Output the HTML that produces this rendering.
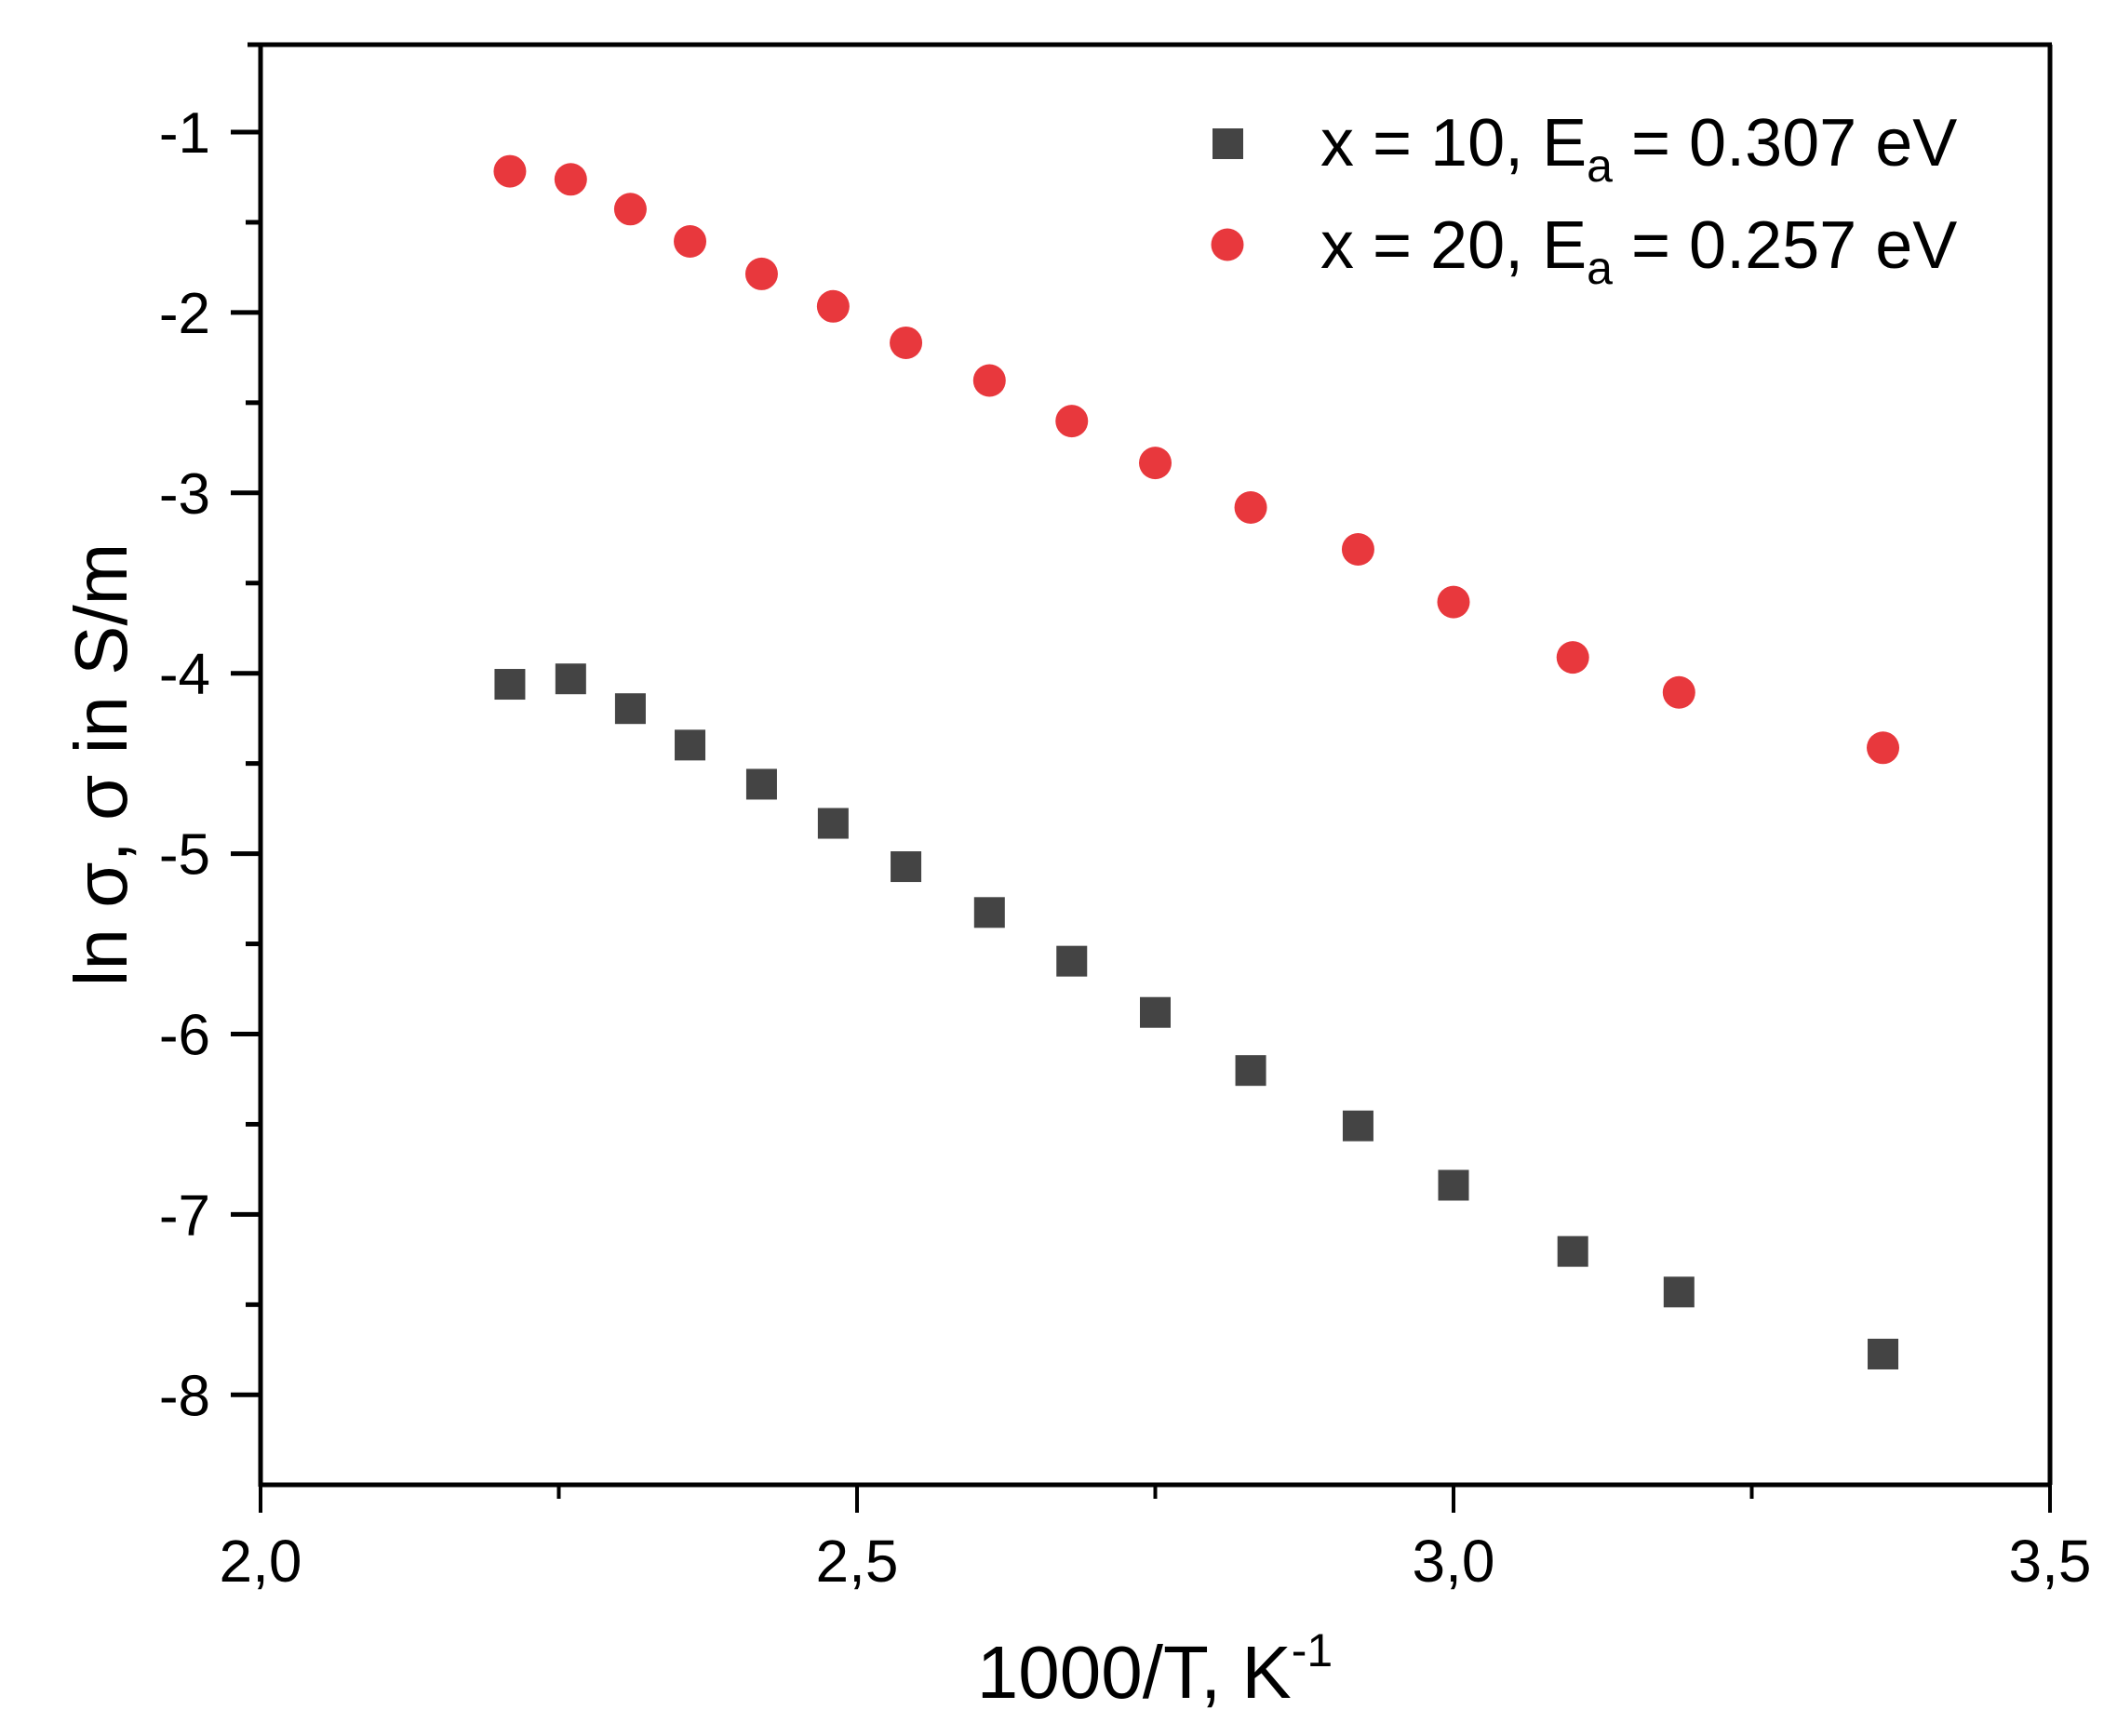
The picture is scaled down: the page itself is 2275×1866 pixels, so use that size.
<!DOCTYPE html>
<html><head><meta charset="utf-8"><style>
html,body{margin:0;padding:0;background:#fff;}
svg{display:block;font-family:"Liberation Sans",Arial,sans-serif;}
</style></head><body>
<svg id="chart" width="2275" height="1866" viewBox="0 0 2275 1866" xmlns="http://www.w3.org/2000/svg">
<g id="axes"></g>
<g id="marks"></g>
<g id="legend">
  <rect x="1303" y="138" width="33" height="33" fill="#444"/>
  <text x="1419" y="178" font-size="72" fill="#000">x = 10, E<tspan font-size="50" dy="17">a</tspan><tspan dy="-17"> = 0.307 eV</tspan></text>
  <circle cx="1319" cy="263" r="17.5" fill="#e8383d"/>
  <text x="1419" y="288" font-size="72" fill="#000">x = 20, E<tspan font-size="50" dy="17">a</tspan><tspan dy="-17"> = 0.257 eV</tspan></text>
</g>
<text x="1241" y="1825" font-size="80" text-anchor="middle">1000/T, K<tspan font-size="50" dy="-34">-1</tspan></text>
<text transform="translate(136,822) rotate(-90)" font-size="80" text-anchor="middle">ln σ, σ in S/m</text>
</svg>
<script>
const xValues = [2.209,2.260,2.310,2.360,2.420,2.480,2.541,2.611,2.680,2.750,2.830,2.920,3.000,3.100,3.189,3.360];
const seriesX20 = [-1.217,-1.262,-1.427,-1.606,-1.786,-1.966,-2.168,-2.377,-2.602,-2.834,-3.081,-3.313,-3.605,-3.912,-4.106,-4.413];
const seriesX10 = [-4.061,-4.031,-4.196,-4.398,-4.615,-4.832,-5.072,-5.326,-5.596,-5.880,-6.202,-6.509,-6.838,-7.205,-7.430,-7.774];
const xTicks = [2.0,2.5,3.0,3.5];
const xTickLabels = ["2,0","2,5","3,0","3,5"];
const xMinorTicks = [2.25,2.75,3.25];
const yTicks = [-1,-2,-3,-4,-5,-6,-7,-8];
const yTickLabels = ["-1","-2","-3","-4","-5","-6","-7","-8"];
const yMinorTicks = [-1.5,-2.5,-3.5,-4.5,-5.5,-6.5,-7.5];

const NS="http://www.w3.org/2000/svg";
const L=280,R=2203,T=48,B=1596;
function sx(v){return L+(v-2)*(R-L)/1.5;}
function sy(v){return 142+(-1-v)*193.9;}
function mk(tag,attrs,parent){const e=document.createElementNS(NS,tag);for(const k in attrs)e.setAttribute(k,attrs[k]);parent.appendChild(e);return e;}
const axes=document.getElementById('axes'), marks=document.getElementById('marks');

let e;
e=mk('line',{x1:L,y1:T-1,x2:L,y2:B+2,stroke:'#000','stroke-width':5},axes);


e=mk('line',{x1:L-2,y1:B,x2:R+2,y2:B,stroke:'#000','stroke-width':5},axes);


e=mk('line',{x1:266,y1:T,x2:R+2,y2:T,stroke:'#000','stroke-width':5},axes);


e=mk('line',{x1:R,y1:T,x2:R,y2:B,stroke:'#000','stroke-width':5},axes);



xTicks.forEach((v,i)=>{
  const x=sx(v);
  const t=mk('line',{x1:x,y1:B,x2:x,y2:B+30,stroke:'#000','stroke-width':4},axes);
  
  
  const lb=mk('text',{x:x,y:1700,'font-size':64,'text-anchor':'middle'},axes);
  lb.textContent=xTickLabels[i];
  
  
});
xMinorTicks.forEach(v=>{
  const x=sx(v);
  const t=mk('line',{x1:x,y1:B,x2:x,y2:B+15,stroke:'#000','stroke-width':4},axes);
  
  
});
yTicks.forEach((v,i)=>{
  const y=sy(v);
  const t=mk('line',{x1:L-32,y1:y,x2:L,y2:y,stroke:'#000','stroke-width':5},axes);
  
  
  const lb=mk('text',{x:226,y:y+22,'font-size':62,'text-anchor':'end'},axes);
  lb.textContent=yTickLabels[i];
  
  
});
yMinorTicks.forEach(v=>{
  const y=sy(v);
  const t=mk('line',{x1:L-16,y1:y,x2:L,y2:y,stroke:'#000','stroke-width':5},axes);
  
  
});

xValues.forEach((xv,i)=>{
  const c=mk('circle',{cx:sx(xv),cy:sy(seriesX20[i]),r:17.5,fill:'#e8383d'},marks);
  
  
  const s=mk('rect',{x:sx(xv)-16.5,y:sy(seriesX10[i])-16.5,width:33,height:33,fill:'#444'},marks);
  
  
});
</script>
</body></html>
